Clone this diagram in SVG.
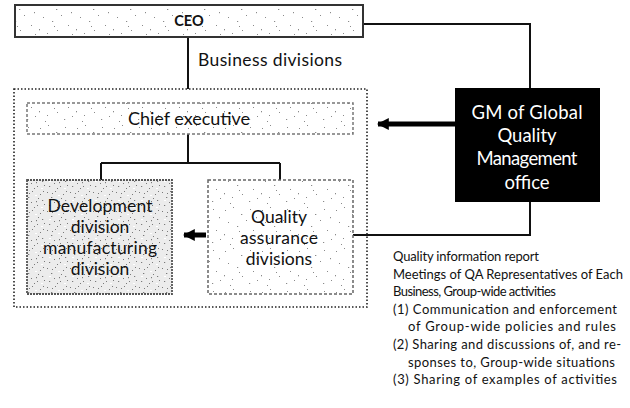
<svg xmlns="http://www.w3.org/2000/svg" width="630" height="408" viewBox="0 0 630 408">
<style>
.t{font-family:Lato,"Open Sans","Liberation Sans",sans-serif;fill:#111}
.lbl{font-size:18px;text-anchor:middle}
.nd{font-size:17.5px;text-anchor:middle}
.small{font-size:13px}
.wt{font-family:Lato,"Open Sans","Liberation Sans",sans-serif;font-size:18.5px;fill:#fff;text-anchor:middle}
.line{stroke:#111;stroke-width:2;fill:none}
.thick{stroke:#000;stroke-width:5;fill:none}
</style>
<defs>
<pattern id="spk" width="37" height="41" patternUnits="userSpaceOnUse">
<rect width="37" height="41" fill="#fff"/>
<g fill="#8a8a8a">
<rect x="3" y="5" width="1" height="1"/><rect x="11" y="2" width="1" height="1"/><rect x="19" y="9" width="1.3" height="1"/><rect x="28" y="4" width="1" height="1"/><rect x="34" y="12" width="1" height="1.2"/><rect x="6" y="17" width="1" height="1"/><rect x="15" y="21" width="1.2" height="1"/><rect x="24" y="15" width="1" height="1"/><rect x="31" y="25" width="1" height="1"/><rect x="2" y="29" width="1" height="1.3"/><rect x="10" y="33" width="1" height="1"/><rect x="20" y="30" width="1" height="1"/><rect x="27" y="37" width="1.2" height="1"/><rect x="35" y="34" width="1" height="1"/><rect x="8" y="39" width="1" height="1"/><rect x="17" y="26" width="1" height="1"/>
</g>
</pattern>
<pattern id="dense" width="23" height="19" patternUnits="userSpaceOnUse">
<rect width="23" height="19" fill="#ececec"/>
<g fill="#7a7a7a">
<rect x="1" y="2" width="1" height="1"/><rect x="5" y="7" width="1.3" height="1"/><rect x="9" y="1" width="1" height="1"/><rect x="13" y="11" width="1" height="1.2"/><rect x="17" y="4" width="1" height="1"/><rect x="21" y="14" width="1" height="1"/><rect x="3" y="15" width="1.2" height="1"/><rect x="8" y="12" width="1" height="1"/><rect x="11" y="17" width="1" height="1"/><rect x="15" y="8" width="1" height="1"/><rect x="19" y="10" width="1.2" height="1"/><rect x="6" y="3" width="1" height="1"/><rect x="20" y="1" width="1" height="1"/><rect x="14" y="15" width="1" height="1"/>
</g>
<g fill="#fff">
<rect x="3" y="10" width="2" height="1"/><rect x="12" y="5" width="2" height="1"/><rect x="18" y="17" width="2" height="1"/>
</g>
</pattern>
<marker id="ah" viewBox="0 0 10 10" refX="9" refY="5" markerWidth="2.4" markerHeight="3.4" orient="auto" markerUnits="strokeWidth">
<path d="M0,0 L10,5 L0,10 Z" fill="#000"/>
</marker>
</defs>

<g id="connectors">
<path class="line" d="M188,37 V89"/>
<path class="line" d="M363,24 H530 V88"/>
<path class="line" d="M188,134 V163 M101,163 H280 M101,163 V180 M280,163 V180"/>
<path class="line" d="M353,235 H530 V202"/>
<path class="thick" d="M455,124 H378" marker-end="url(#ah)"/>
<path class="thick" d="M206,235 H184" marker-end="url(#ah)"/>
</g>

<g id="business-divisions">
<rect x="14" y="89" width="353" height="218" fill="none" stroke="#222" stroke-width="1.6" stroke-dasharray="1.5 2"/>
<text class="t" x="198" y="66" font-size="17.5" textLength="144">Business divisions</text>
</g>

<g id="ceo">
<rect x="15" y="5" width="348" height="32" fill="url(#spk)" stroke="#333" stroke-width="2"/>
<text class="t" x="189" y="26" text-anchor="middle" style="font-size:14.5px;font-weight:bold">CEO</text>
</g>

<g id="chief-executive">
<rect x="27" y="103" width="326" height="31" fill="url(#spk)" stroke="#777" stroke-width="1.5" stroke-dasharray="3 2"/>
<text class="t lbl" x="189" y="125" textLength="122">Chief executive</text>
</g>

<g id="development">
<rect x="27" y="180" width="145" height="114" fill="url(#dense)" stroke="#555" stroke-width="1.8" stroke-dasharray="2 1"/>
<text class="t nd" x="100" y="212" textLength="105">Development</text>
<text class="t nd" x="100" y="233">division</text>
<text class="t nd" x="100" y="254" textLength="114">manufacturing</text>
<text class="t nd" x="100" y="275">division</text>
</g>

<g id="quality-assurance">
<rect x="208" y="180" width="145" height="114" fill="url(#spk)" stroke="#666" stroke-width="1.5" stroke-dasharray="3 2"/>
<text class="t nd" x="279" y="223">Quality</text>
<text class="t nd" x="279" y="244" textLength="78">assurance</text>
<text class="t nd" x="279" y="265">divisions</text>
</g>

<g id="gm">
<rect x="455" y="88" width="145" height="114" fill="#000"/>
<text class="wt" x="527" y="119" textLength="111">GM of Global</text>
<text class="wt" x="527" y="142">Quality</text>
<text class="wt" x="527" y="165" textLength="101">Management</text>
<text class="wt" x="527" y="189">office</text>
</g>

<g id="notes">
<text class="t small" x="393" y="261" textLength="146">Quality information report</text>
<text class="t small" x="393" y="278.6" textLength="230">Meetings of QA Representatives of Each</text>
<text class="t small" x="393" y="296.2" textLength="163">Business, Group-wide activities</text>
<text class="t small" x="393" y="313.8" textLength="224">(1) Communication and enforcement</text>
<text class="t small" x="408" y="331.4" textLength="208">of Group-wide policies and rules</text>
<text class="t small" x="393" y="349" textLength="228">(2) Sharing and discussions of, and re-</text>
<text class="t small" x="408" y="366.6" textLength="207">sponses to, Group-wide situations</text>
<text class="t small" x="393" y="384.2" textLength="224">(3) Sharing of examples of activities</text>
</g>
</svg>
